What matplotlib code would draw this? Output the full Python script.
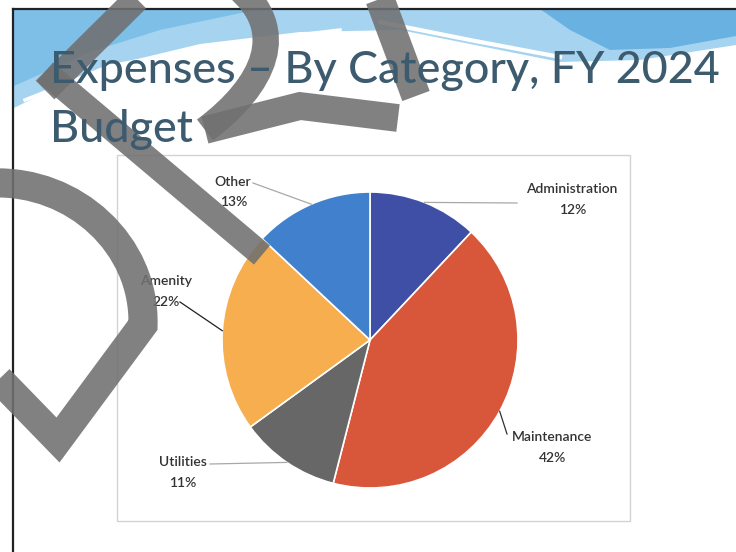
import matplotlib
matplotlib.use('Agg')
import matplotlib.pyplot as plt
import numpy as np
from matplotlib.patches import Polygon, Rectangle, PathPatch
from matplotlib.path import Path

# ---------------- data ----------------
categories = ['Administration', 'Maintenance', 'Utilities', 'Amenity', 'Other']
shares = [12, 42, 11, 22, 13]
pct_labels = ['12%', '42%', '11%', '22%', '13%']
colors = ['#3F4FA5', '#D8573A', '#676767', '#F6AE4F', '#4180CC']
title_line1 = 'Expenses \u2013 By Category, FY 2024'
title_line2 = 'Budget'

W, H = 736, 552
fig = plt.figure(figsize=(7.36, 5.52), dpi=100)
fig.patch.set_facecolor('white')
ax = fig.add_axes([0, 0, 1, 1])


def P(x, y):
    return (x, H - y)


def path(pts):
    return list(zip(*[P(*p) for p in pts]))


def stroke(verts, codes, lw):
    pp = Path([P(*v) for v in verts], codes)
    ax.add_patch(PathPatch(pp, fill=False, edgecolor='#707070', alpha=0.88, lw=lw,
                           capstyle='butt', joinstyle='miter', zorder=6))


FONT = ['Lato', 'DejaVu Sans']

# ---------------- slide decoration: top wave ----------------
base = [(14, 9), (736, 9), (736, 45), (640, 60), (560, 62), (470, 44), (400, 30), (300, 32),
        (200, 44), (100, 68), (40, 95), (14, 108)]
ax.add_patch(Polygon([P(*p) for p in base], closed=True, facecolor='#a6d4f0', edgecolor='none', zorder=1))
dark_r = [(540, 9), (736, 9), (736, 36), (670, 48), (610, 50), (570, 30)]
ax.add_patch(Polygon([P(*p) for p in dark_r], closed=True, facecolor='#5aa9de', edgecolor='none', alpha=0.8, zorder=1))
dark_l = [(14, 9), (260, 9), (160, 30), (90, 52), (14, 86)]
ax.add_patch(Polygon([P(*p) for p in dark_l], closed=True, facecolor='#6db7e4', edgecolor='none', alpha=0.7, zorder=1))
ax.plot(*path([(25, 100), (110, 66), (240, 42), (340, 30)]), color='white', lw=2.5, zorder=1.5)
ax.plot(*path([(380, 22), (470, 40), (560, 57)]), color='white', lw=3, zorder=1.5)

# frame lines
ax.plot(*path([(13, 9), (736, 9)]), color='#222222', lw=1.6, zorder=2)
ax.plot(*path([(13, 9), (13, 552)]), color='#222222', lw=1.6, zorder=2)

# ---------------- chart box ----------------
ax.add_patch(Rectangle(P(117, 521), 630 - 117, 521 - 155, facecolor='white',
                       edgecolor='#d2d2d2', lw=1.0, zorder=2))

# ---------------- pie ----------------
cx, cy = P(370, 340)
R = 148
wedges, _ = ax.pie(shares, colors=colors, startangle=90, counterclock=False,
                   center=(cx, cy), radius=R,
                   wedgeprops=dict(edgecolor='white', linewidth=1.2))
for w in wedges:
    w.set_zorder(3)

# label layout (pixel positions of name / percentage centres and leader ends)
name_pos = [(572, 189), (552, 437), (183, 462), (166, 281), (233, 182)]
pct_pos = [(573, 210), (553, 458), (183, 483), (166, 302), (234, 202)]
leader_end = [(517, 203), (507, 434), (210, 464), (180, 302), (253, 183)]
leader_col = ['#a8a8a8', '#303030', '#a8a8a8', '#202020', '#a8a8a8']

for i, w in enumerate(wedges):
    ang = np.deg2rad((w.theta1 + w.theta2) / 2.0)
    ex, ey = cx + R * np.cos(ang), cy + R * np.sin(ang)
    lx, ly = P(*leader_end[i])
    ax.plot([ex, lx], [ey, ly], color=leader_col[i], lw=0.9, zorder=4)
    ax.text(*P(*name_pos[i]), categories[i], ha='center', va='center', fontsize=10,
            color='#333333', family=FONT, fontweight='semibold', zorder=5)
    ax.text(*P(*pct_pos[i]), pct_labels[i], ha='center', va='center', fontsize=10,
            color='#333333', family=FONT, fontweight='semibold', zorder=5)

# ---------------- watermark (scan overlay) ----------------
C4, MT, LT = Path.CURVE4, Path.MOVETO, Path.LINETO
# big "D": rounded arc + straight sides meeting at a point
stroke([(-8, 183), (75, 180), (145, 245), (143, 325), (58, 440), (-10, 370)],
       [MT, C4, C4, C4, LT, LT], 21)
# "R": stem, bowl, leg
stroke([(45, 72), (262, 255)], [MT, LT], 18)
stroke([(45, 90), (150, -14)], [MT, LT], 19)
stroke([(236, -14), (290, 30), (265, 85), (205, 130)], [MT, C4, C4, C4], 19)
stroke([(205, 130), (300, 106), (398, 118)], [MT, LT, LT], 20)
stroke([(375, -14), (416, 96)], [MT, LT], 21)

# ---------------- title ----------------
t1 = ax.text(*P(50, 83), title_line1, ha='left', va='baseline', fontsize=40,
             color='#3D5B6E', family=FONT, fontweight='medium', zorder=7)
fig.canvas.draw()
bb = t1.get_window_extent()
t1.set_fontsize(40 * (718 - 50) / bb.width)
ax.text(*P(50, 142), title_line2, ha='left', va='baseline', fontsize=t1.get_fontsize(),
        color='#3D5B6E', family=FONT, fontweight='medium', zorder=7)

ax.set_xlim(0, W)
ax.set_ylim(0, H)
ax.set_aspect('equal')
ax.axis('off')

fig.savefig('out.png', dpi=100, facecolor='white')
